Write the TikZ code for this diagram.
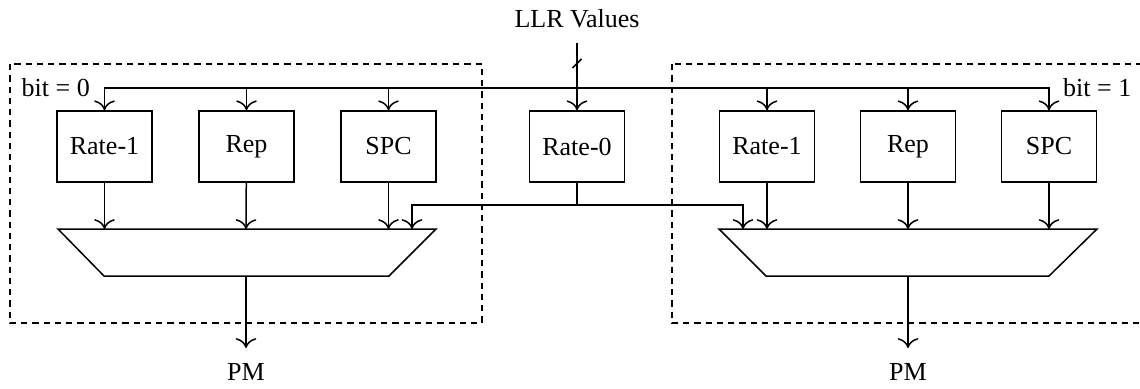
\documentclass[tikz,border=0pt]{standalone}
\usepackage{fontspec}
\setmainfont{Liberation Serif}
\usetikzlibrary{arrows,arrows.meta,positioning,calc}
\tikzset{dec block/.style={draw=black,minimum width=38pt,minimum height=28.4pt,inner sep=0pt}}
\tikzset{bit region/.style={draw=black,thick,dash pattern=on 2.5pt off 2pt}}
\tikzset{io label/.style={inner sep=0pt,outer sep=6pt}}

\begin{document}
\begin{tikzpicture}[->,>={To[scale=1.35]},semithick,x=0.4pt,y=-0.4pt,
					font=\fontsize{10.4}{12}\selectfont]
					\useasboundingbox (0,0) rectangle (1140,388);
					% dashed regions for the two bit values
					\draw[bit region,-] (10,64) rectangle (482,323);
					\draw[bit region,-] (672,64) rectangle (1160,323);
					\node[inner sep=0pt,anchor=west] at (21,88) (bit_0) {bit = 0};
					\node[inner sep=0pt,anchor=east] at (1132,88) (bit_1) {bit = 1};
					\node[io label] at (577,18.5) (llr) {LLR Values};
					\node[dec block] at (104.5,146.5) (r1_l)  {Rate-1};
					\node[dec block] at (246.5,146.5) (rep_l) {Rep};
					\node[dec block] at (388.5,146.5) (spc_l) {SPC};
					\node[dec block] at (577,146.5)   (r0)    {Rate-0};
					\node[dec block] at (767,146.5)   (r1_r)  {Rate-1};
					\node[dec block] at (908,146.5)   (rep_r) {Rep};
					\node[dec block] at (1049,146.5)  (spc_r) {SPC};
					\node[io label] at (246,371.5) (pm_l) {PM};
					\node[io label] at (908,371.5) (pm_r) {PM};
					% muxes
					\draw[-] (58,229) -- (436,229) -- (389,276) -- (104,276) -- cycle;
					\draw[-] (719,229) -- (1097,229) -- (1049,276) -- (766,276) -- cycle;
					\coordinate (mtop_l) at (246,229);
					\coordinate (mbot_l) at (246,276);
					\coordinate (mtop_r) at (908,229);
					\coordinate (mbot_r) at (908,276);
					\coordinate (in0_l) at (412,229);
					\coordinate (in0_r) at (743,229);
					\coordinate (bus) at (577,88);
					\coordinate (slash) at (577,63.5);
					\coordinate (r0_split) at (577,205);
					% LLR input and bus
					\draw (llr) -- (r0);
					\draw[-] ($(slash)+(-4.5,4.5)$) -- ($(slash)+(4.5,-4.5)$);
					\draw (bus) -| (r1_l);
					\draw (bus) -| (rep_l);
					\draw (bus) -| (spc_l);
					\draw (bus) -| (r1_r);
					\draw (bus) -| (rep_r);
					\draw (bus) -| (spc_r);
					% into the muxes
					\draw (r1_l) -- (r1_l |- mtop_l);
					\draw (rep_l) -- (mtop_l);
					\draw (spc_l) -- (spc_l |- mtop_l);
					\draw (r1_r) -- (r1_r |- mtop_r);
					\draw (rep_r) -- (mtop_r);
					\draw (spc_r) -- (spc_r |- mtop_r);
					\draw[-] (r0) -- (r0_split);
					\draw (r0_split) -| (in0_l);
					\draw (r0_split) -| (in0_r);
					% outputs
					\draw (mbot_l) -- (pm_l);
					\draw (mbot_r) -- (pm_r);
				\end{tikzpicture}
\end{document}
